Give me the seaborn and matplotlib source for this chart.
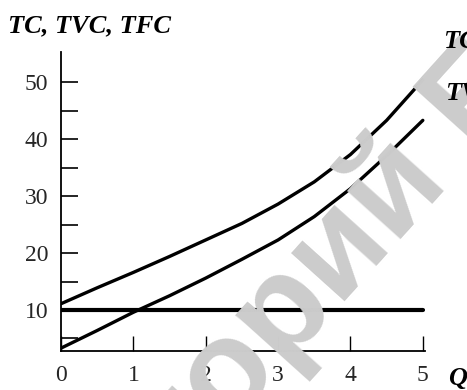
import matplotlib
matplotlib.use('Agg')
import matplotlib.pyplot as plt
import seaborn as sns
import pandas as pd

# данные
q = [0, 0.5, 1, 1.5, 2, 2.5, 3, 3.5, 4, 4.5, 5]
tc = [11.1, 13.9, 16.6, 19.4, 22.3, 25.2, 28.6, 32.5, 37.3, 43.3, 50.4]
tvc = [3.3, 6.4, 9.6, 12.5, 15.6, 18.9, 22.3, 26.4, 31.3, 37.1, 43.3]
tfc = [10] * len(q)

x_ticks = [0, 1, 2, 3, 4, 5]
y_ticks = [10, 20, 30, 40, 50]
y_minor = [5, 15, 25, 35, 45]

df = pd.DataFrame({'Q': q, 'TC': tc, 'TVC': tvc, 'TFC': tfc})

sns.set_style('white')
plt.rcParams['font.family'] = ['Liberation Serif', 'DejaVu Serif']

W, H = 467, 390
fig = plt.figure(figsize=(W / 100, H / 100), dpi=100)

# водяной знак
fig.text(262 / W, 1 - 338 / H, 'Репозиторий БГЭУ', rotation=48,
         rotation_mode='anchor', ha='center', va='center',
         family='Liberation Sans', weight='bold', fontsize=98,
         color='#cccccc', zorder=0)

ax = fig.add_axes([61 / W, 39 / H, 364 / W, 299 / H])
ax.patch.set_alpha(0)

sns.lineplot(data=df, x='Q', y='TC', color='black', lw=2.4, ax=ax)
sns.lineplot(data=df, x='Q', y='TVC', color='black', lw=2.4, ax=ax)
sns.lineplot(data=df, x='Q', y='TFC', color='black', lw=3.0, ax=ax)

ax.set_xlim(0, 5.03)
ax.set_ylim(2.8, 55.3)
ax.set_xticks(x_ticks)
ax.set_yticks(y_ticks)
ax.set_yticks(y_minor, minor=True)
ax.set_xlabel('')
ax.set_ylabel('')

for s in ['top', 'right']:
    ax.spines[s].set_visible(False)
for s in ['left', 'bottom']:
    ax.spines[s].set_color('black')
    ax.spines[s].set_linewidth(1.3)

ax.tick_params(axis='y', which='both', left=True, direction='in', length=12.2,
               width=1.2, color='black', labelsize=17, pad=9)
ax.tick_params(axis='x', bottom=True, direction='in', length=10.8, width=1.0,
               color='black', labelsize=17, pad=10)

lab = dict(weight='bold', style='italic', fontsize=19, color='black')
fig.text(8 / W, 1 - 32 / H, 'TC, TVC, TFC', va='baseline', **lab)
fig.text(443 / W, 1 - 48 / H, 'TC', va='baseline', **lab)
fig.text(445 / W, 1 - 100 / H, 'TVC', va='baseline', **lab)
fig.text(448 / W, 1 - 385 / H, 'Q', va='baseline', **lab)

fig.savefig('out.png', dpi=100)
